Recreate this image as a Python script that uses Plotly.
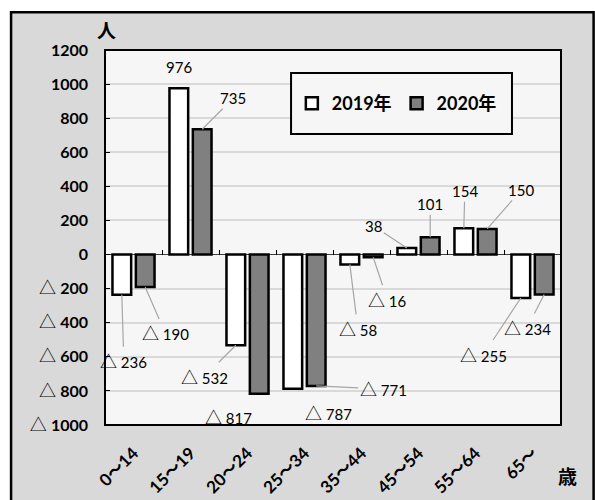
import plotly.graph_objects as go

categories = ["0～14", "15～19", "20～24", "25～34", "35～44", "45～54", "55～64", "65～"]
values_2019 = [-236, 976, -532, -787, -58, 38, 154, -255]
values_2020 = [-190, 735, -817, -771, -16, 101, 150, -234]
series_names = ["2019年", "2020年"]
y_tickvals = [1200, 1000, 800, 600, 400, 200, 0, -200, -400, -600, -800, -1000]

# label placement offsets (pixels from bar end) and whether leader line is shown
label_offsets_2019 = [(2, 66, True), (0, -21, False), (-31, 31, True), (36, 24, False),
                      (8, 64, True), (-33, -22, True), (1, -37, True), (-37, 56, True)]
label_offsets_2020 = [(20, 46, True), (31, -31, True), (-31, 23, False), (67, 3, True),
                      (14, 42, True), (0, -33, True), (34, -39, True), (-17, 33, True)]

FONT = "Lato, 'Noto Sans CJK JP', sans-serif"
TRI = "<span style='font-family:Noto Sans CJK JP;font-size:17px'>△</span>"
Y_MIN, Y_MAX = -1000, 1200
BARGAP, BARGROUPGAP = 0.18, 0.2


def fmt(v):
    return f"{TRI} {abs(v)}" if v < 0 else str(v)


def tick_text(v):
    return f"{TRI} <b>{abs(v)}</b>" if v < 0 else f"<b>{v}</b>"


fig = go.Figure()
fig.add_trace(go.Bar(x=categories, y=values_2019, name=series_names[0],
                     marker=dict(color="#ffffff", line=dict(color="#000000", width=2.5))))
fig.add_trace(go.Bar(x=categories, y=values_2020, name=series_names[1],
                     marker=dict(color="#808080", line=dict(color="#000000", width=2.5))))
# dummy trace to register the boundary-tick axis
fig.add_trace(go.Scatter(x=[None], y=[None], xaxis="x2", showlegend=False, hoverinfo="skip"))

annotations = []
off = (1 - BARGAP) / 4
for vals, offs, sign in ((values_2019, label_offsets_2019, -1), (values_2020, label_offsets_2020, 1)):
    for i, (v, (ax, ay, leader)) in enumerate(zip(vals, offs)):
        annotations.append(dict(
            x=i + sign * off, y=v, xref="x", yref="y", text=fmt(v),
            showarrow=True, arrowhead=0, arrowwidth=1.2,
            arrowcolor="#a6a6a6" if leader else "rgba(0,0,0,0)",
            ax=ax, ay=ay, standoff=0,
            font=dict(family=FONT, size=15, color="#000000"),
        ))

annotations.append(dict(x=0.004, y=1.051, xref="paper", yref="paper", text="<b>人</b>",
                        xanchor="center", yanchor="middle",
                        showarrow=False, font=dict(family=FONT, size=19, color="#000000")))
annotations.append(dict(x=1.015, y=-0.136, xref="paper", yref="paper", text="<b>歳</b>",
                        xanchor="center", yanchor="middle",
                        showarrow=False, font=dict(family=FONT, size=19, color="#000000")))

shapes = [
    # outer chart area
    dict(type="rect", xref="paper", yref="paper", x0=-0.206, x1=1.0715, y0=-0.25, y1=1.101,
         fillcolor="#d9d9d9", line=dict(color="#000000", width=2.5), layer="below"),
    # plot area
    dict(type="rect", xref="paper", yref="paper", x0=0, x1=1, y0=0, y1=1,
         fillcolor="#f6f6f6", line=dict(width=0), layer="below"),
    # plot area border
    dict(type="rect", xref="paper", yref="paper", x0=0, x1=1, y0=0, y1=1,
         fillcolor="rgba(0,0,0,0)", line=dict(color="#000000", width=2), layer="above"),
    # legend box
    dict(type="rect", xref="paper", yref="paper", x0=0.408, x1=0.8925, y0=0.776, y1=0.9387,
         fillcolor="#f6f6f6", line=dict(color="#000000", width=2), layer="above"),
]

fig.update_layout(
    width=595, height=500,
    margin=dict(l=105, r=34, t=50, b=75),
    paper_bgcolor="#ffffff", plot_bgcolor="rgba(0,0,0,0)",
    barmode="group", bargap=BARGAP, bargroupgap=BARGROUPGAP,
    showlegend=True,
    legend=dict(orientation="h", x=0.64, y=0.857, xanchor="center", yanchor="middle",
                bgcolor="rgba(0,0,0,0)", borderwidth=0,
                font=dict(family=FONT, size=18, color="#000000", weight="bold"),
                itemwidth=30, traceorder="normal"),
    xaxis=dict(type="category", range=[-0.5, 7.5], showgrid=False, zeroline=False,
               tickangle=-45, ticks="", showline=False, ticklabelstandoff=14,
               automargin=False,
               tickfont=dict(family=FONT, size=17, color="#000000", weight="bold")),
    xaxis2=dict(overlaying="x", anchor="free", range=[-0.5, 7.5],
                position=(0 - Y_MIN) / (Y_MAX - Y_MIN),
                tickmode="array", tickvals=[i - 0.5 for i in range(len(categories) + 1)],
                ticks="inside", ticklen=5, tickcolor="#000000", tickwidth=1,
                showticklabels=False, showgrid=False, zeroline=False, showline=False),
    yaxis=dict(range=[Y_MIN, Y_MAX], tickmode="array", tickvals=y_tickvals,
               ticktext=[tick_text(v) for v in y_tickvals],
               showgrid=True, gridcolor="#d9d9d9", gridwidth=1.5,
               zeroline=True, zerolinecolor="#404040", zerolinewidth=1.2,
               ticks="inside", ticklen=5, tickcolor="#000000", automargin=False,
               tickfont=dict(family=FONT, size=16, color="#000000"), ticklabelstandoff=16),
    annotations=annotations,
    shapes=shapes,
)

fig.write_html("out.html")
